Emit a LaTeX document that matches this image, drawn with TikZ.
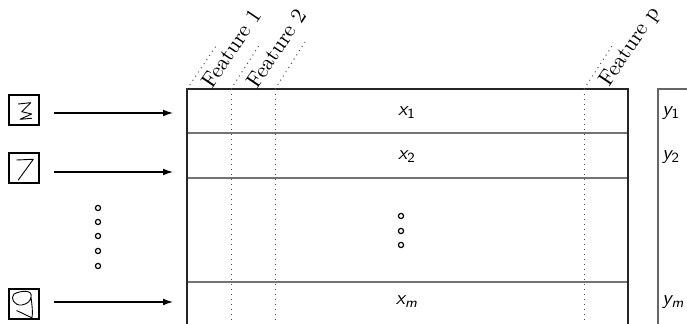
\documentclass[tikz,border=0pt]{standalone}
\usetikzlibrary{arrows.meta}
\begin{document}
\begin{tikzpicture}[x=0.5pt,y=-0.5pt,
  frame/.style={draw=black!85,line width=0.6pt},
  rowline/.style={draw=black!55,line width=0.7pt},
  colline/.style={draw=black!70,dotted,line width=0.5pt},
  featlab/.style={rotate=56,anchor=base west,inner sep=0pt,font=\fontsize{10.9}{13}\selectfont},
  imgbox/.style={draw=black,line width=0.8pt,minimum size=15pt,inner sep=0pt},
  dig/.style={line width=0.45pt,line join=round,line cap=round},
  dotc/.style={circle,draw=black,line width=0.6pt,minimum size=2.6pt,inner sep=0pt},
  arr/.style={-{Latex[length=5pt,width=3.4pt]},line width=0.6pt},
  lab/.style={font=\sffamily\itshape,inner sep=0pt}]
\useasboundingbox (0,0) rectangle (687,324);
\begin{scope}
\clip (0,0) rectangle (687,324);
% main matrix
\coordinate (mtl) at (187,89);
\coordinate (mtr) at (628,89);
\coordinate (mbl) at (187,340);
\coordinate (mbr) at (628,340);
\draw[rowline] (187,133) -- (628,133);
\draw[rowline] (187,178) -- (628,178);
\draw[rowline] (187,282) -- (628,282);
\draw[frame] (mbl) -- (mtl) -- (mtr) -- (mbr);
% columns
\coordinate (c1) at (231,89);
\coordinate (c2) at (275,89);
\coordinate (c3) at (584,89);
\draw[colline] (c1) -- (231,340);
\draw[colline] (c2) -- (275,340);
\draw[colline] (c3) -- (584,340);
% feature diagonal lines
\coordinate (d0) at (216,46);
\coordinate (d1) at (260,44);
\coordinate (d2) at (305,42);
\coordinate (d3) at (614,43);
\draw[colline] (mtl) -- (d0);
\draw[colline] (c1) -- (d1);
\draw[colline] (c2) -- (d2);
\draw[colline] (c3) -- (d3);
\node[featlab] (f1) at (212,90) {Feature 1};
\node[featlab] (f2) at (257,90) {Feature 2};
\node[featlab] (fp) at (609,88) {Feature p};
% y box
\draw[draw=black!60,line width=0.6pt] (658,340) -- (658,89) -- (700,89);
% labels
\node[lab] (x1) at (407,113) {x\textsubscript{\upshape 1}};
\node[lab] (x2) at (407,157) {x\textsubscript{\upshape 2}};
\node[lab] (xm) at (407,302) {x\textsubscript{m}};
\node[lab,anchor=west] (y1) at (662,113) {y\textsubscript{\upshape 1}};
\node[lab,anchor=west] (y2) at (662,157) {y\textsubscript{\upshape 2}};
\node[lab,anchor=west] (ym) at (662,302) {y\textsubscript{m}};
% middle dots
\node[dotc] (md1) at (401,216) {};
\node[dotc] (md2) at (401,231) {};
\node[dotc] (md3) at (401,245) {};
% left dots
\node[dotc] (ld1) at (98,208) {};
\node[dotc] (ld2) at (98,222) {};
\node[dotc] (ld3) at (98,236) {};
\node[dotc] (ld4) at (98,251) {};
\node[dotc] (ld5) at (98,266) {};
% image boxes
\node[imgbox] (i1) at (24,110) {};
\node[imgbox] (i2) at (24,168) {};
\node[imgbox] (i3) at (24,304) {};
\draw[dig] (18.3,104) -- (30.7,102.7) -- (21.7,111.7) -- (31.7,114) -- (20,119.3) -- (31.7,118.3);
\draw[dig] (16.7,160) -- (33.3,159.3) -- (18.3,180);
\draw[dig] (31,297) .. controls (33,290) and (22,290) .. (14,294) .. controls (10,298) and (14,306) .. (22,305) .. controls (28,304) and (31,300) .. (31,297) .. controls (32,305) and (33,312) .. (32,318) .. controls (26,315) and (20,312) .. (16.7,310.7);
% arrows
\coordinate (a1s) at (54,113); \coordinate (a1e) at (173,113);
\coordinate (a2s) at (54,172); \coordinate (a2e) at (173,172);
\coordinate (a3s) at (54,302); \coordinate (a3e) at (173,302);
\draw[arr] (a1s) -- (a1e);
\draw[arr] (a2s) -- (a2e);
\draw[arr] (a3s) -- (a3e);
\end{scope}
\end{tikzpicture}
\end{document}
